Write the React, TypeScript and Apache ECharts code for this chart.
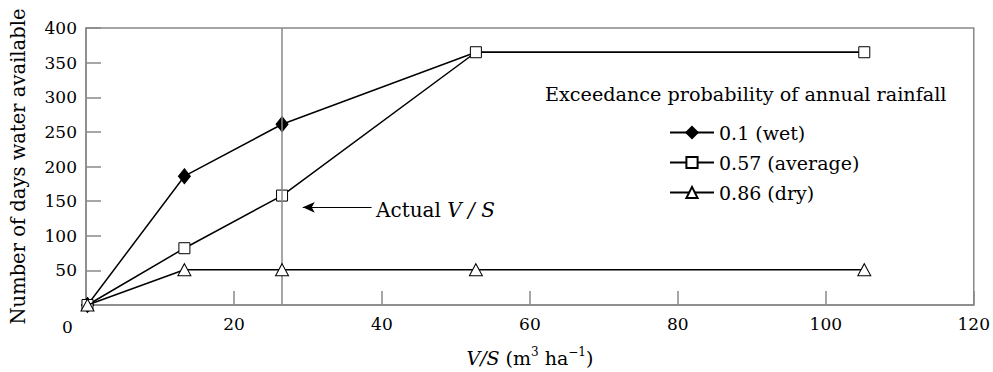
import React, { useEffect, useRef } from "react";
import * as echarts from "echarts";

const xValues = [0.2, 13.3, 26.5, 52.7, 105.2];
const wetValues = [0, 186, 261, 365, 365];
const averageValues = [0, 82, 158, 365, 365];
const dryValues = [0, 51, 51, 51, 51];
const seriesNames = ["0.1 (wet)", "0.57 (average)", "0.86 (dry)"];
const actualVS = 26.5;
const arrowY = 141;
const arrowFrom = 38.6;
const arrowTo = 29.3;

const FONT = "DejaVu Serif";

function pairs(ys: number[]) {
  return ys.map((y, i) => [xValues[i], y]);
}

export default function App() {
  const ref = useRef<HTMLDivElement>(null);
  useEffect(() => {
    const chart = echarts.init(ref.current!, undefined, { renderer: "svg" });
    const lineStyle = { color: "#000", width: 1.5 };
    chart.setOption({
      animation: false,
      textStyle: { fontFamily: FONT, color: "#000" },
      grid: {
        left: 81,
        right: 19,
        top: 28,
        bottom: 63,
        show: true,
        borderColor: "#888",
        borderWidth: 1.5,
      },
      title: {
        text: "Exceedance probability of annual rainfall",
        left: 545,
        top: 85,
        padding: 0,
        textStyle: { fontFamily: FONT, fontSize: 19.2, fontWeight: "normal", color: "#000" },
      },
      legend: {
        orient: "vertical",
        left: 669,
        top: 123,
        padding: 0,
        itemWidth: 44,
        itemHeight: 14,
        itemGap: 11,
        textStyle: { fontFamily: FONT, fontSize: 19, color: "#000" },
        data: seriesNames,
      },
      xAxis: {
        type: "value",
        min: 0,
        max: 120,
        interval: 20,
        name: "{i|V/S} {n|(m}{s|3}{n| ha}{s|−1}{n|)}",
        nameLocation: "middle",
        nameGap: 41,
        nameTextStyle: {
          fontFamily: FONT,
          fontSize: 19,
          color: "#000",
          rich: {
            i: { fontFamily: FONT, fontSize: 19, fontStyle: "italic", color: "#000" },
            n: { fontFamily: FONT, fontSize: 19, color: "#000" },
            s: { fontFamily: FONT, fontSize: 12, color: "#000", padding: [0, 0, 11, 0] },
          },
        },
        axisLine: { lineStyle: { color: "#888", width: 1.5 } },
        axisTick: { inside: true, length: 14, lineStyle: { color: "#888", width: 1.5 } },
        axisLabel: {
          fontFamily: FONT,
          fontSize: 17,
          color: "#000",
          margin: 10,
          formatter: (v: number) => (v === 0 ? "" : String(v)),
        },
        splitLine: { show: false },
      },
      yAxis: {
        type: "value",
        min: 0,
        max: 400,
        interval: 50,
        name: "Number of days water available",
        nameLocation: "middle",
        nameGap: 58,
        nameRotate: 90,
        nameTextStyle: { fontFamily: FONT, fontSize: 19.5, color: "#000" },
        axisLine: { lineStyle: { color: "#888", width: 1.5 } },
        axisTick: { inside: true, length: 15, lineStyle: { color: "#888", width: 1.5 } },
        axisLabel: {
          fontFamily: FONT,
          fontSize: 17,
          color: "#000",
          margin: 9,
          showMinLabel: false,
        },
        splitLine: { show: false },
      },
      graphic: [
        {
          type: "text",
          left: 62,
          top: 318,
          style: { text: "0", font: `17px "${FONT}"`, fill: "#000" },
        },
        {
          type: "text",
          left: 376,
          top: 200,
          style: {
            text: "Actual {i|V / S}",
            font: `20px "${FONT}"`,
            fill: "#000",
            rich: {
              i: { fontFamily: FONT, fontSize: 20, fontStyle: "italic", fill: "#000" },
            },
          },
        },
      ],
      series: [
        {
          name: seriesNames[0],
          type: "line",
          data: pairs(wetValues).map((p, i) => (i >= 3 ? { value: p, symbol: "none" } : p)),
          symbol: "diamond",
          symbolSize: [12, 15],
          lineStyle,
          itemStyle: { color: "#000", borderColor: "#000", borderWidth: 1 },
          z: 3,
          markLine: {
            silent: true,
            symbol: ["none", "none"],
            label: { show: false },
            lineStyle: { color: "#888", width: 1.5, type: "solid" },
            data: [{ xAxis: actualVS }],
          },
        },
        {
          name: seriesNames[1],
          type: "line",
          data: pairs(averageValues),
          symbol: "rect",
          symbolSize: 11,
          lineStyle,
          itemStyle: { color: "#fff", borderColor: "#000", borderWidth: 1 },
          z: 4,
          markLine: {
            silent: true,
            symbol: ["none", "arrow"],
            symbolSize: [8, 12],
            label: { show: false },
            lineStyle: { color: "#000", width: 1, type: "solid" },
            data: [[{ coord: [arrowFrom, arrowY] }, { coord: [arrowTo, arrowY] }]],
          },
        },
        {
          name: seriesNames[2],
          type: "line",
          data: pairs(dryValues),
          symbol: "triangle",
          symbolSize: [13, 12],
          lineStyle,
          itemStyle: { color: "#fff", borderColor: "#000", borderWidth: 1 },
          z: 5,
        },
      ],
    });
    return () => chart.dispose();
  }, []);
  return <div ref={ref} style={{ width: 993, height: 372, position: "absolute", left: 0, top: 0 }} />;
}
